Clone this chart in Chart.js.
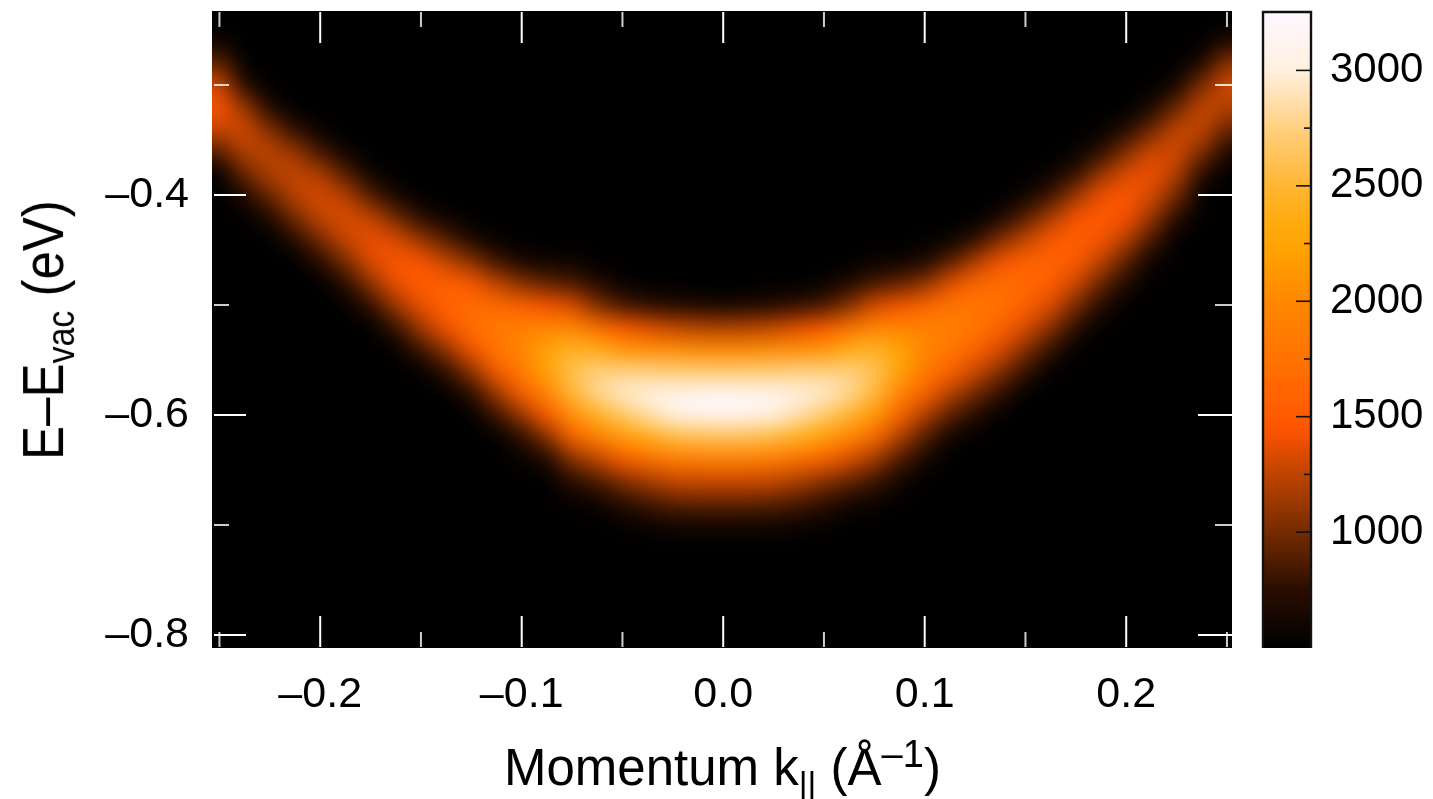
<!DOCTYPE html>
<html><head><meta charset="utf-8">
<style>
html,body{margin:0;padding:0;background:#fff;width:1433px;height:799px;overflow:hidden;font-family:"Liberation Sans",Arial,sans-serif;color:#000}
canvas{position:absolute;top:0}
#main{left:0}#bar{left:1240px}
.lbl{position:absolute;white-space:nowrap;line-height:1}
#xl{left:504px;top:742px;font-size:51px}
#yl{left:43px;top:330px;font-size:51px;transform:translate(-50%,-50%) rotate(-90deg) scaleY(1.12)}
.lbl sub{font-size:34px;vertical-align:-10px;line-height:0}
.lbl sup{font-size:38px;vertical-align:18px;line-height:0}
</style>
<script src="https://cdn.jsdelivr.net/npm/chart.js@4"></script>
</head><body>
<canvas id="main" width="1433" height="799"></canvas>
<canvas id="bar" width="193" height="799"></canvas>
<div class="lbl" id="xl">Momentum k<sub>||</sub> (Å<sup>–1</sup>)</div>
<div class="lbl" id="yl">E–E<sub>vac</sub> (eV)</div>
<script>
const kValues=[-0.25,-0.2375,-0.225,-0.2125,-0.2,-0.1875,-0.175,-0.1625,-0.15,-0.1375,-0.125,-0.1125,-0.1,-0.0875,-0.075,-0.0625,-0.05,-0.0375,-0.025,-0.0125,0,0.0125,0.025,0.0375,0.05,0.0625,0.075,0.0875,0.1,0.1125,0.125,0.1375,0.15,0.1625,0.175,0.1875,0.2,0.2125,0.225,0.2375,0.25];
const energyRows=[-0.24,-0.26,-0.28,-0.30,-0.32,-0.34,-0.36,-0.38,-0.40,-0.42,-0.44,-0.46,-0.48,-0.50,-0.52,-0.54,-0.56,-0.58,-0.60,-0.62,-0.64,-0.66,-0.68,-0.70,-0.72,-0.74,-0.76,-0.78,-0.80,-0.82];
const backgroundCounts=500;
const bandFirstRow=[1,3,4,5,5,6,7,8,9,9,10,10,11,11,11,12,12,13,13,13,13,13,13,13,12,12,11,11,10,10,10,9,8,7,6,5,5,4,3,2,1];
const bandCounts=[
[560,930,1320,1440,1290,900],
[710,1130,1310,1230,960,670],
[660,1040,1250,1210,960,670],
[750,1110,1280,1240,1000,700],
[530,820,1190,1330,1270,1000,710],
[550,880,1220,1350,1280,1020,720],
[550,880,1260,1400,1340,1080,760],
[600,980,1340,1470,1400,1120,790],
[720,1110,1460,1530,1400,1140,810],
[560,880,1280,1570,1600,1440,1090,760],
[650,1060,1490,1680,1700,1450,1070,730],
[510,810,1260,1670,1820,1780,1510,1130,790],
[620,1060,1550,1910,1970,1830,1540,1110,740,540],
[570,920,1450,1950,2250,2250,1930,1500,1040,640],
[560,850,1350,1950,2450,2600,2500,2050,1550,1050,720,520],
[700,1030,1700,2350,2750,2800,2400,1900,1250,850,560],
[540,830,1480,2100,2760,2950,2650,2150,1500,1020,730,520],
[750,1370,2060,2750,3050,2850,2330,1680,1160,820,550],
[680,1280,2030,2730,3120,3050,2520,1840,1280,900,590],
[630,1230,2010,2710,3180,3130,2580,1880,1300,920,600],
[600,1200,2000,2700,3220,3180,2600,1900,1300,920,600],
[630,1230,2010,2710,3180,3130,2580,1880,1300,920,600],
[680,1280,2030,2730,3120,3050,2520,1840,1280,900,590],
[760,1380,2060,2750,3050,2870,2360,1720,1180,840,560],
[540,830,1490,2100,2760,2960,2680,2200,1560,1060,760,530],
[680,1040,1720,2350,2750,2820,2450,1980,1350,930,620],
[540,830,1340,1950,2450,2620,2530,2120,1650,1150,800,560],
[560,920,1450,1950,2250,2250,1950,1600,1200,860,600],
[510,640,1080,1600,1930,1970,1850,1580,1200,880,620],
[540,890,1370,1780,1880,1820,1580,1230,900,570],
[750,1190,1630,1790,1780,1590,1310,980,700],
[620,1020,1430,1690,1720,1590,1350,1040,770],
[570,890,1270,1580,1650,1570,1350,1040,780],
[540,800,1180,1480,1590,1550,1350,1060,780],
[530,760,1130,1440,1550,1510,1300,1000,750],
[510,740,1100,1400,1510,1460,1260,950,720],
[690,1020,1340,1470,1430,1220,910,660],
[630,960,1300,1410,1330,1120,840,560],
[610,960,1270,1320,1220,990,720],
[660,1030,1280,1280,1040,740],
[640,1090,1320,1220,940,660]
];
const xMajorTicks=[-0.2,-0.1,0,0.1,0.2];
const xMinorTicks=[-0.25,-0.15,-0.05,0.05,0.15,0.25];
const yMajorTicks=[-0.4,-0.6,-0.8];
const yMinorTicks=[-0.3,-0.5,-0.7];
const barMajorTicks=[1000,1500,2000,2500,3000];
const barMinorTicks=[750,1250,1750,2250,2750];
const paletteValues=[498,750,1000,1250,1430,1500,1750,2000,2200,2350,2500,2750,3000,3253];
const paletteColours=[[0,0,0],[42,13,0],[117,43,0],[189,68,0],[250,82,0],[255,90,0],[255,115,0],[255,136,0],[255,160,0],[255,172,16],[255,182,51],[255,208,128],[255,240,223],[255,248,255]];

function colourOf(v){
  if(v<=paletteValues[0])return 'rgb(0,0,0)';
  for(let i=1;i<paletteValues.length;i++){
    if(v<=paletteValues[i]){
      const t=(v-paletteValues[i-1])/(paletteValues[i]-paletteValues[i-1]);
      const a=paletteColours[i-1],b=paletteColours[i];
      return 'rgb('+a.map((c,j)=>Math.round(c+(b[j]-c)*t)).join(',')+')';
    }
  }
  return 'rgb(255,248,255)';
}
function countsAt(col,row){
  const r=row-bandFirstRow[col];
  return (r>=0&&r<bandCounts[col].length)?bandCounts[col][r]:backgroundCounts;
}
const halfRow=0.01;
const rowDatasets=energyRows.map((E,row)=>{
  const vals=kValues.map((k,col)=>countsAt(col,row));
  return {
    label:'E '+E,
    data:kValues.map(k=>({x:k,y:[E-halfRow,E+halfRow]})),
    backgroundColor:vals.map(colourOf),
    borderWidth:0,
    barPercentage:1,categoryPercentage:1,grouped:false
  };
});
const tickFont={family:'"Liberation Sans",Arial,sans-serif',size:43};
const barFont={family:'"Liberation Sans",Arial,sans-serif',size:42};
const fmt=v=>{const s=Math.abs(v).toFixed(1);return (v<0?'–':'')+s;};

const smoothPlugin={
  id:'smooth',
  beforeDatasetsDraw(c){
    const a=c.chartArea,x=c.ctx;
    x.save();x.fillStyle='#000';x.fillRect(a.left,a.top,a.width,a.height);x.restore();
  },
  afterDatasetsDraw(c){
    const a=c.chartArea,x=c.ctx,d=c.currentDevicePixelRatio||1,m=Math.round(40*d);
    const sx=a.left*d,sy=a.top*d,w=a.width*d,h=a.height*d;
    const t=document.createElement('canvas');t.width=w+2*m;t.height=h+2*m;
    const tc=t.getContext('2d');
    tc.fillStyle='#000';tc.fillRect(0,0,t.width,t.height);
    tc.drawImage(c.canvas,sx,sy,2,h,0,m,m,h);
    tc.drawImage(c.canvas,sx+w-2,sy,2,h,m+w,m,m,h);
    tc.drawImage(c.canvas,sx,sy,w,h,m,m,w,h);
    const b=document.createElement('canvas');b.width=t.width;b.height=t.height;
    const bc=b.getContext('2d');bc.filter='blur('+(11*d)+'px)';bc.drawImage(t,0,0);
    x.save();x.setTransform(1,0,0,1,0,0);
    x.drawImage(b,m,m,w,h,sx,sy,w,h);
    x.restore();
    const X=c.scales.x,Y=c.scales.y;
    x.save();x.strokeStyle='#fff';x.lineWidth=2;
    const vt=(v,l)=>{const p=X.getPixelForValue(v);x.globalAlpha=l>20?1:0.8;x.beginPath();x.moveTo(p,a.top+1);x.lineTo(p,a.top+l);x.moveTo(p,a.bottom-l);x.lineTo(p,a.bottom-1);x.stroke();};
    const ht=(v,l)=>{const p=Y.getPixelForValue(v);x.globalAlpha=l>20?1:0.8;x.beginPath();x.moveTo(a.left+2,p);x.lineTo(a.left+l,p);x.moveTo(a.right-l,p);x.lineTo(a.right,p);x.stroke();};
    xMajorTicks.forEach(v=>vt(v,32));xMinorTicks.forEach(v=>vt(v,16));
    yMajorTicks.forEach(v=>ht(v,34));yMinorTicks.forEach(v=>ht(v,17));
    x.restore();
  }
};
new Chart(document.getElementById('main'),{
  type:'bar',
  data:{datasets:rowDatasets},
  plugins:[smoothPlugin],
  options:{
    responsive:false,animation:false,devicePixelRatio:1,
    layout:{padding:{top:11,right:201,left:0,bottom:0}},
    plugins:{legend:{display:false},tooltip:{enabled:false}},
    scales:{
      x:{type:'linear',offset:false,min:-0.2537,max:0.2525,
        grid:{display:false},border:{display:false},
        afterBuildTicks:s=>{s.ticks=xMajorTicks.map(v=>({value:v}));},
        afterFit:s=>{s.height=151;s.paddingLeft=0;s.paddingRight=0;},
        ticks:{font:tickFont,color:'#000',padding:13,maxRotation:0,autoSkip:false,callback:fmt}},
      y:{type:'linear',min:-0.8118,max:-0.2327,
        grid:{display:false},border:{display:false},
        afterBuildTicks:s=>{s.ticks=yMajorTicks.map(v=>({value:v}));},
        afterFit:s=>{s.width=212;s.paddingTop=0;s.paddingBottom=0;},
        ticks:{font:tickFont,color:'#000',padding:15,autoSkip:false,callback:fmt}}
    }
  }
});
const colourbarFrame={
  id:'frame',
  afterDatasetsDraw(c){
    const a=c.chartArea,x=c.ctx,Y=c.scales.y;
    x.save();x.strokeStyle='#111';x.lineWidth=1.6;
    const t=(v,l)=>{const p=Y.getPixelForValue(v);x.beginPath();x.moveTo(a.right,p);x.lineTo(a.right-l,p);x.stroke();};
    barMajorTicks.forEach(v=>t(v,15));barMinorTicks.forEach(v=>t(v,7));
    x.strokeStyle='#111';x.lineWidth=2.4;
    x.beginPath();x.moveTo(a.left,a.bottom);x.lineTo(a.left,a.top);x.lineTo(a.right,a.top);x.lineTo(a.right,a.bottom);x.stroke();
    x.restore();
  }
};
new Chart(document.getElementById('bar'),{
  type:'bar',
  data:{labels:['counts'],datasets:[{
    data:[[paletteValues[0],paletteValues[paletteValues.length-1]]],
    borderWidth:0,barPercentage:1,categoryPercentage:1,
    backgroundColor(ctx){
      const ch=ctx.chart,Y=ch.scales.y;
      if(!ch.chartArea||!Y)return '#000';
      const lo=paletteValues[0],hi=paletteValues[paletteValues.length-1];
      const g=ch.ctx.createLinearGradient(0,Y.getPixelForValue(lo),0,Y.getPixelForValue(hi));
      paletteValues.forEach((v,i)=>g.addColorStop((v-lo)/(hi-lo),'rgb('+paletteColours[i].join(',')+')'));
      return g;
    }
  }]},
  plugins:[colourbarFrame],
  options:{
    responsive:false,animation:false,devicePixelRatio:1,
    layout:{padding:{top:12,left:23,right:0,bottom:151}},
    plugins:{legend:{display:false},tooltip:{enabled:false}},
    scales:{
      x:{display:false,offset:true},
      y:{position:'right',min:paletteValues[0],max:paletteValues[paletteValues.length-1],
        grid:{display:false},border:{display:false},
        afterBuildTicks:s=>{s.ticks=barMajorTicks.map(v=>({value:v}));},
        afterFit:s=>{s.width=122;s.paddingTop=0;s.paddingBottom=0;},
        ticks:{font:barFont,color:'#000',padding:11,autoSkip:false,callback:v=>String(v)}}
    }
  }
});
</script>
</body></html>
